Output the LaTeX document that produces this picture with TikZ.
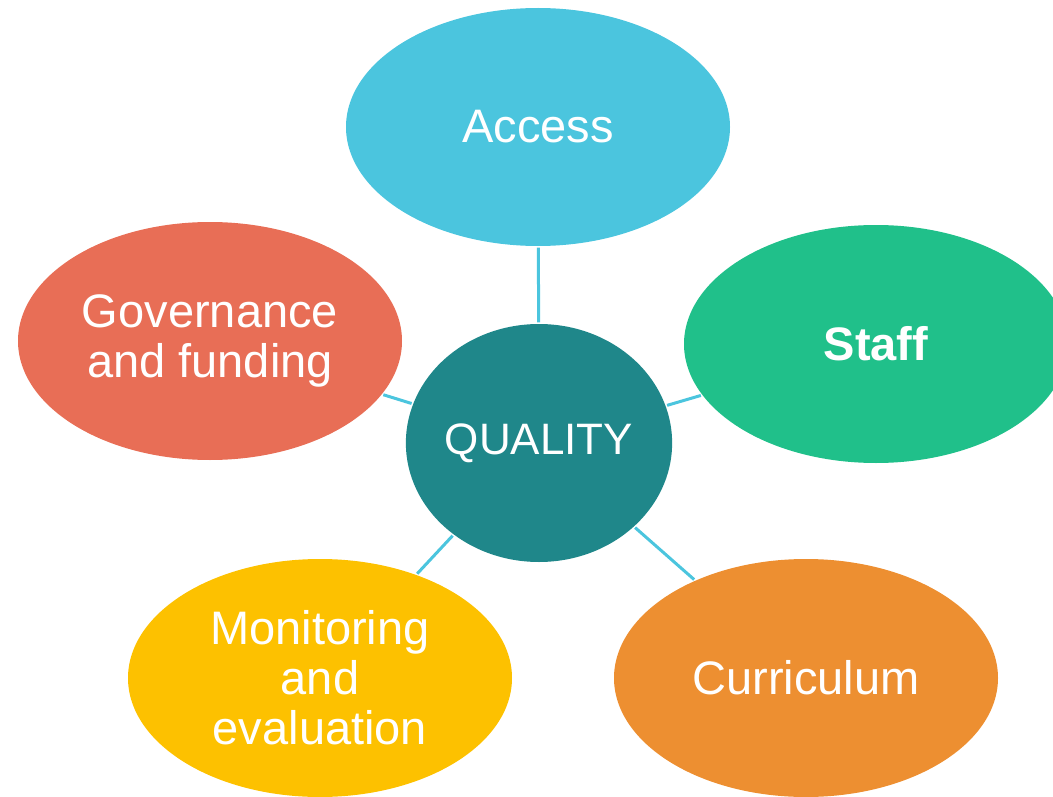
\documentclass[tikz,border=0pt]{standalone}
\usepackage{fontspec}
\setmainfont{Liberation Sans}
\usepackage{xcolor}
\usepackage{tikz}
\usetikzlibrary{shapes.geometric}

\definecolor{accessblue}{HTML}{4BC5DE}
\definecolor{qualityteal}{HTML}{1F878A}
\definecolor{staffgreen}{HTML}{20C08A}
\definecolor{govred}{HTML}{E86E56}
\definecolor{monyellow}{HTML}{FDC100}
\definecolor{currorange}{HTML}{ED8F31}

\begin{document}
\begin{tikzpicture}[x=1pt,y=-1pt,
  bubble/.style={ellipse,minimum width=384pt,minimum height=238pt,inner sep=0pt,
    text=white,align=center,font=\fontsize{47}{50}\selectfont},
  link/.style={draw=accessblue,line width=3pt}]
\useasboundingbox (0,0) rectangle (1053,797);
\clip (0,0) rectangle (1053,797);
% centre
\node[bubble,fill=qualityteal,minimum width=266pt,minimum height=238pt,
  font=\fontsize{44}{50}\selectfont] (quality) at (539,443) {QUALITY};
% outer ring
\node[bubble,fill=accessblue] (access) at (538,127) {Access};
\node[bubble,fill=staffgreen,font=\fontsize{47}{50}\selectfont\bfseries] (staff) at (876,344) {Staff};
\node[bubble,fill=govred] (gov) at (210,341) {Governance\\and funding};
\node[bubble,fill=monyellow] (mon) at (320,678) {Monitoring\\and\\evaluation};
\node[bubble,fill=currorange] (curr) at (806,678) {Curriculum};
% links
\foreach \n in {access,staff,gov,mon,curr}
  \draw[link,shorten <=1.5pt,shorten >=1.5pt] (quality) -- (\n);
\end{tikzpicture}
\end{document}
